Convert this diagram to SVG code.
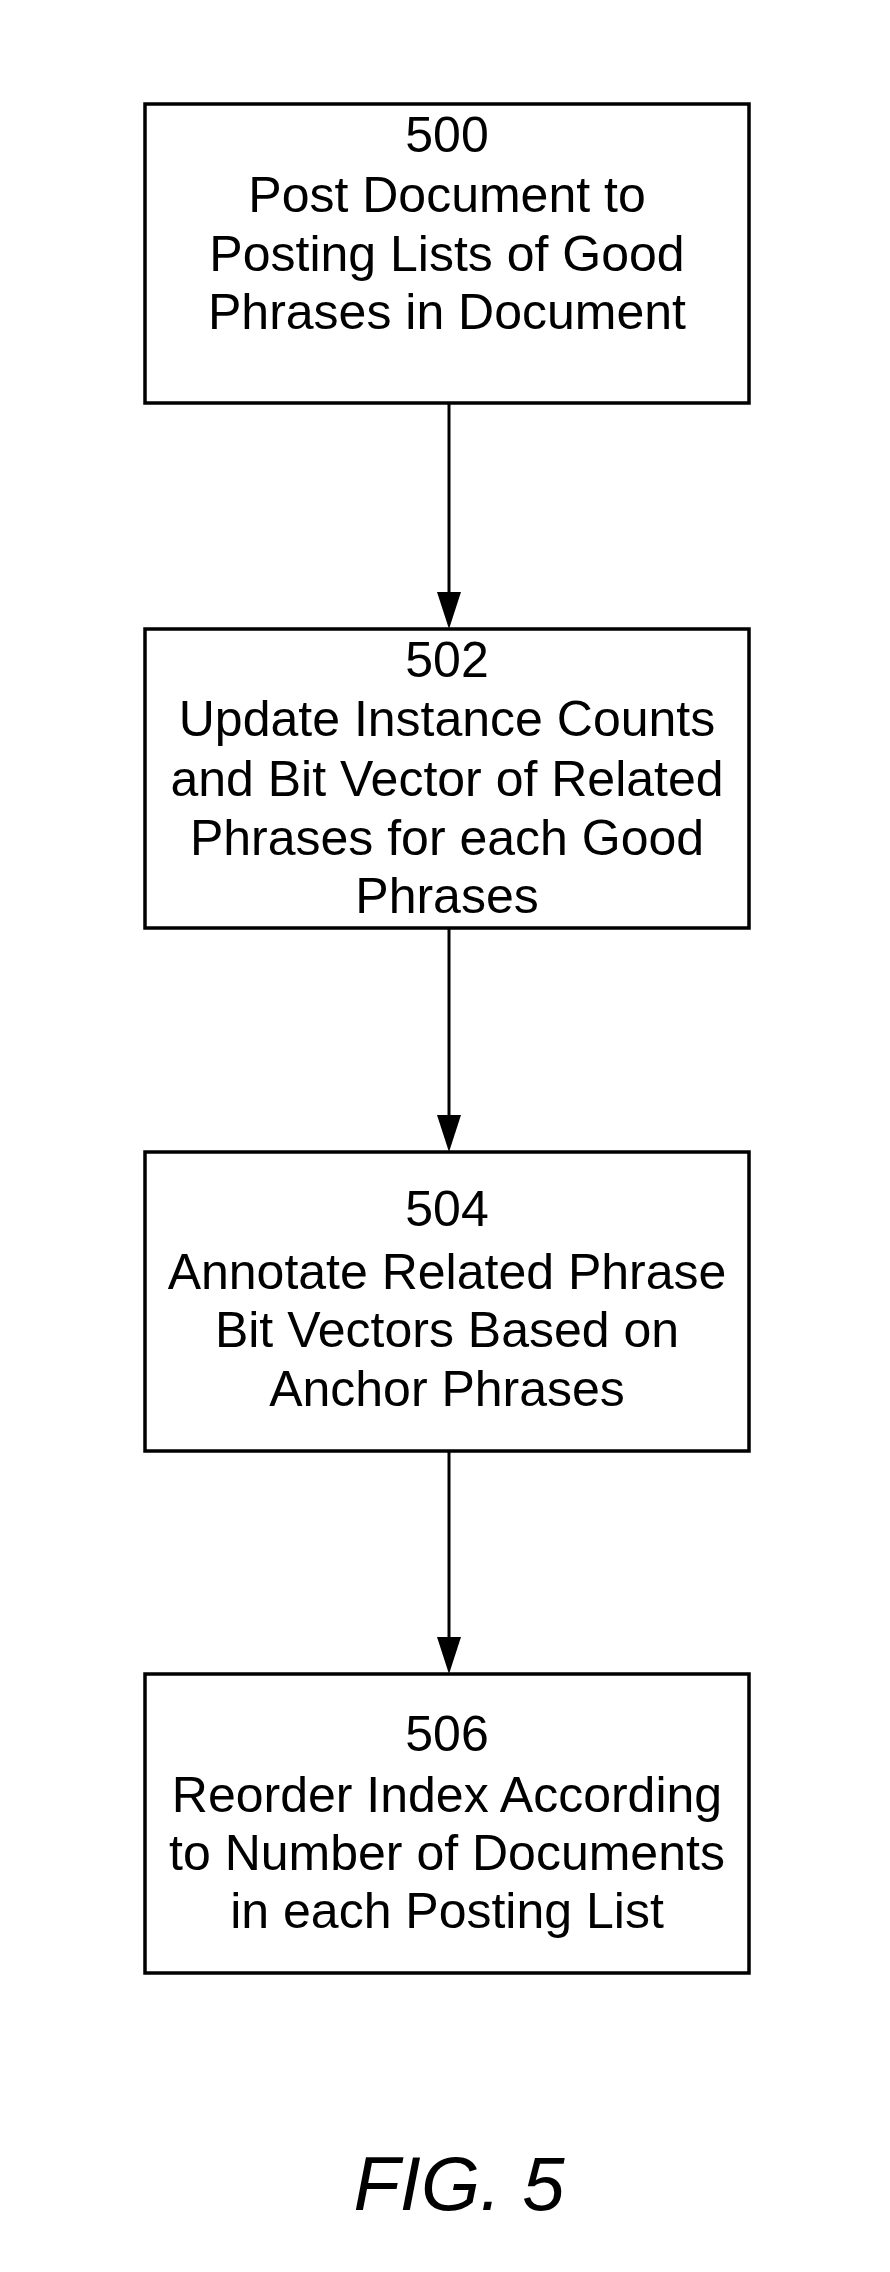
<svg xmlns="http://www.w3.org/2000/svg" width="890" height="2272" viewBox="0 0 890 2272">
<defs>
<style>
.box{fill:#fff;stroke:#000;stroke-width:3.5}
.t{font-family:"Liberation Sans",Arial,sans-serif;font-size:50px;text-anchor:middle;fill:#000}
.c{stroke:#000;stroke-width:3;fill:none}
.ah{fill:#000}
</style>
</defs>
<rect width="890" height="2272" fill="#fff"/>
<g id="connectors">
<line class="c" x1="449" y1="403" x2="449" y2="594"/>
<path class="ah" d="M437,592 L461,592 L449,629 Z"/>
<line class="c" x1="449" y1="928" x2="449" y2="1117"/>
<path class="ah" d="M437,1115 L461,1115 L449,1152 Z"/>
<line class="c" x1="449" y1="1451" x2="449" y2="1639"/>
<path class="ah" d="M437,1637 L461,1637 L449,1674 Z"/>
</g>
<g id="n500">
<rect class="box" x="145" y="104" width="604" height="299"/>
<text class="t" x="447" y="152">500</text>
<text class="t" x="447" y="212">Post Document to</text>
<text class="t" x="447" y="271">Posting Lists of Good</text>
<text class="t" x="447" y="329">Phrases in Document</text>
</g>
<g id="n502">
<rect class="box" x="145" y="629" width="604" height="299"/>
<text class="t" x="447" y="677">502</text>
<text class="t" x="447" y="736">Update Instance Counts</text>
<text class="t" x="447" y="796">and Bit Vector of Related</text>
<text class="t" x="447" y="855">Phrases for each Good</text>
<text class="t" x="447" y="913">Phrases</text>
</g>
<g id="n504">
<rect class="box" x="145" y="1152" width="604" height="299"/>
<text class="t" x="447" y="1226">504</text>
<text class="t" x="447" y="1289">Annotate Related Phrase</text>
<text class="t" x="447" y="1347">Bit Vectors Based on</text>
<text class="t" x="447" y="1406">Anchor Phrases</text>
</g>
<g id="n506">
<rect class="box" x="145" y="1674" width="604" height="299"/>
<text class="t" x="447" y="1751">506</text>
<text class="t" x="447" y="1812">Reorder Index According</text>
<text class="t" x="447" y="1870">to Number of Documents</text>
<text class="t" x="447" y="1928">in each Posting List</text>
</g>
<g id="caption">
<text x="459" y="2210" style="font-family:'Liberation Sans',Arial,sans-serif;font-size:76px;font-style:italic;text-anchor:middle;fill:#000">FIG. 5</text>
</g>
</svg>
